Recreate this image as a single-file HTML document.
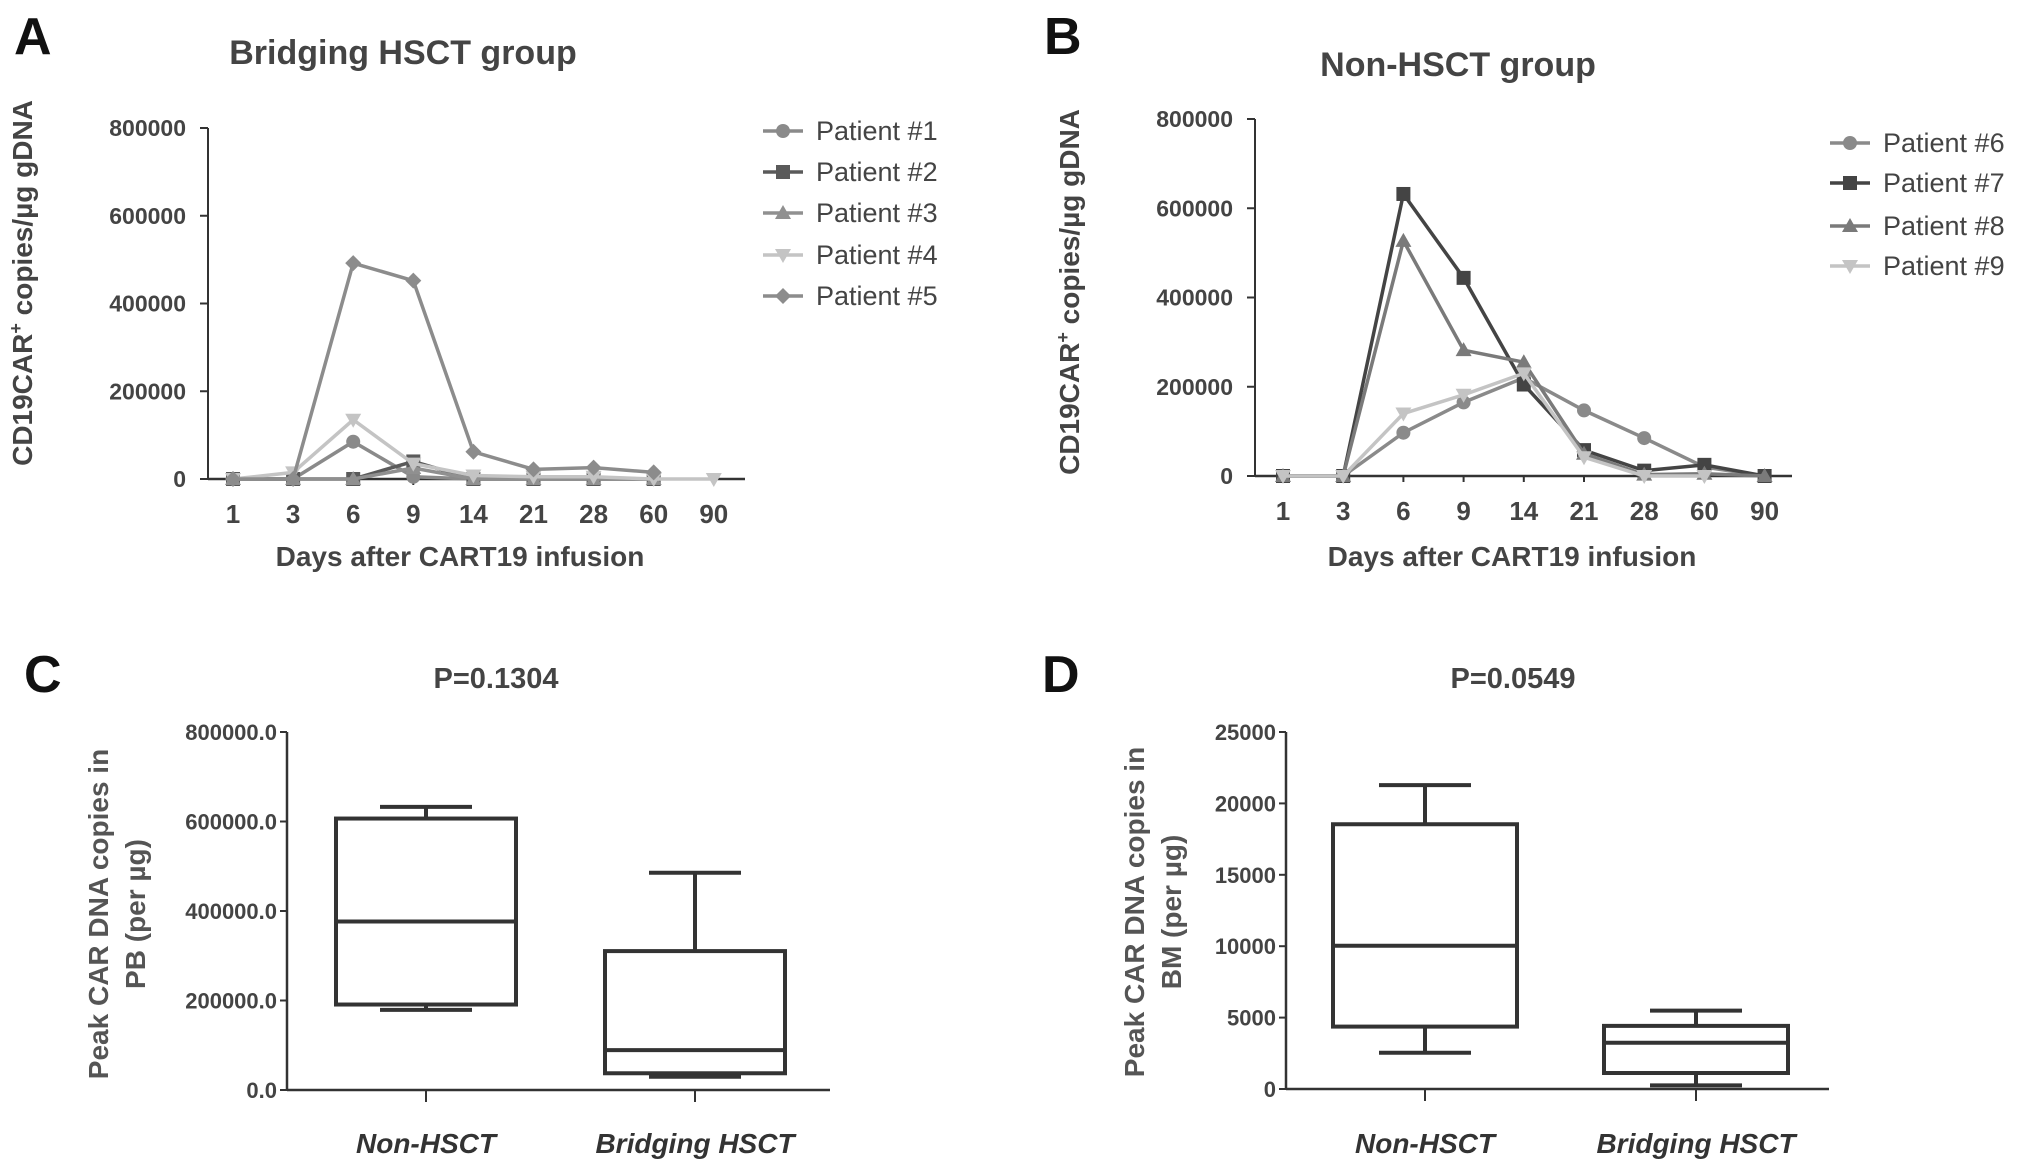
<!DOCTYPE html>
<html><head><meta charset="utf-8"><style>
html,body{margin:0;padding:0;background:#fff;}
svg{display:block;font-family:"Liberation Sans",Arial,sans-serif;}
</style></head><body>
<svg id="fig" width="2031" height="1176" viewBox="0 0 2031 1176" xmlns="http://www.w3.org/2000/svg">
<g fill="#111" font-weight="bold" font-size="52">
<text x="14" y="54">A</text>
<text x="1044" y="54">B</text>
<text x="24" y="692">C</text>
<text x="1042" y="692">D</text>
</g>
<g fill="#444" font-size="34" font-weight="bold" text-anchor="middle">
<text x="403" y="64">Bridging HSCT group</text>
<text x="1458" y="76">Non-HSCT group</text>
<text x="496" y="688" font-size="29">P=0.1304</text>
<text x="1513" y="688" font-size="29">P=0.0549</text>
</g>
<g id="gA"></g><g id="gB"></g><g id="gC"></g><g id="gD"></g>
</svg>
<script>
// ---- Panel A data ----
const daysA = ["1","3","6","9","14","21","28","60","90"];
const yTicksA = [0,200000,400000,600000,800000];
const namesA = ["Patient #1","Patient #2","Patient #3","Patient #4","Patient #5"];
const p1 = [0,0,85000,5000,0,0,0,0,null];
const p2 = [0,0,0,40000,0,0,0,0,null];
const p3 = [0,0,0,25000,0,0,0,0,null];
const p4 = [0,15000,135000,35000,8000,5000,5000,0,0];
const p5 = [0,0,492000,452000,62000,22000,26000,15000,null];
// ---- Panel B data ----
const namesB = ["Patient #6","Patient #7","Patient #8","Patient #9"];
const p6 = [0,0,97000,165000,220000,147000,85000,20000,0];
const p7 = [0,0,632000,444000,205000,58000,12000,25000,0];
const p8 = [0,0,527000,282000,255000,50000,3000,5000,0];
const p9 = [0,0,140000,182000,230000,42000,0,0,null];
// ---- Panel C data ----
const groups = ["Non-HSCT","Bridging HSCT"];
const yTicksC = [0,200000,400000,600000,800000];
const cMin=[179000,29500], cQ1=[191000,37400], cMed=[376500,89200], cQ3=[606600,310400], cMax=[632800,485600];
// ---- Panel D data ----
const yTicksD = [0,5000,10000,15000,20000,25000];
const dMin=[2540,250], dQ1=[4370,1120], dMed=[10030,3240], dQ3=[18540,4420], dMax=[21280,5490];

const NS="http://www.w3.org/2000/svg";
function mk(parent,tag,attrs,txt){const e=document.createElementNS(NS,tag);for(const k in attrs)e.setAttribute(k,attrs[k]);if(txt!==undefined)e.textContent=txt;parent.appendChild(e);return e;}

function marker(g,shape,x,y,col){
  let e;
  if(shape==="circle") e=mk(g,"circle",{cx:x,cy:y,r:7,fill:col});
  else if(shape==="square") e=mk(g,"rect",{x:x-7,y:y-7,width:14,height:14,fill:col});
  else if(shape==="tri") e=mk(g,"polygon",{points:`${x},${y-8} ${x+8},${y+6} ${x-8},${y+6}`,fill:col});
  else if(shape==="itri") e=mk(g,"polygon",{points:`${x},${y+8} ${x+8},${y-6} ${x-8},${y-6}`,fill:col});
  else e=mk(g,"polygon",{points:`${x},${y-8} ${x+8},${y} ${x},${y+8} ${x-8},${y}`,fill:col});
  
  
  return e;
}

function linePanel(gid,o){
  const g=document.getElementById(gid);
  const xs=i=>o.x0+i*o.step;
  const ys=v=>o.yb-(v/800000)*(o.yb-o.yt);
  let ax=mk(g,"line",{x1:o.ax,y1:o.yt,x2:o.ax,y2:o.yb,stroke:"#333","stroke-width":2});
  
  let bx=mk(g,"line",{x1:o.ax,y1:o.yb,x2:o.axEnd,y2:o.yb,stroke:"#333","stroke-width":2.5});
  
  yTicksA.forEach(t=>{
    mk(g,"line",{x1:o.ax-8,y1:ys(t),x2:o.ax,y2:ys(t),stroke:"#333","stroke-width":2});
    const tl=mk(g,"text",{x:o.ax-22,y:ys(t)+8,"text-anchor":"end","font-size":23,"font-weight":"bold",fill:"#444"},String(t));
    
  });
  daysA.forEach((d,i)=>{
    mk(g,"line",{x1:xs(i),y1:o.yb,x2:xs(i),y2:o.yb+6,stroke:"#333","stroke-width":2});
    const tl=mk(g,"text",{x:xs(i),y:o.yb+44,"text-anchor":"middle","font-size":26,"font-weight":"bold",fill:"#444"},d);
    
  });
  const xt=mk(g,"text",{x:o.xtX,y:566,"text-anchor":"middle","font-size":28,"font-weight":"bold",fill:"#444"},"Days after CART19 infusion");
  
  const yt=mk(g,"text",{x:0,y:0,"text-anchor":"middle","font-size":28,"font-weight":"bold",fill:"#444",transform:`translate(${o.ytX},${o.ytY}) rotate(-90)`});
  
  yt.innerHTML='CD19CAR<tspan dy="-10" font-size="18">+</tspan><tspan dy="10"> copies/µg gDNA</tspan>';
  o.series.forEach((s,k)=>{
    const sg=mk(g,"g",{});
    
    
    let pts=[];s.forEach((v,i)=>{if(v!==null)pts.push(xs(i)+","+ys(v));});
    mk(sg,"polyline",{points:pts.join(" "),fill:"none",stroke:o.cols[k],"stroke-width":3.5});
    s.forEach((v,i)=>{if(v!==null)marker(sg,o.shapes[k],xs(i),ys(v),o.cols[k]);});
    const ly=o.legY[k];
    const lg=mk(g,"g",{});
    
    
    mk(lg,"line",{x1:o.legX-20,y1:ly,x2:o.legX+20,y2:ly,stroke:o.cols[k],"stroke-width":3.5});
    marker(lg,o.shapes[k],o.legX,ly,o.cols[k]);
    mk(lg,"text",{x:o.legX+33,y:ly+9,"font-size":27,fill:"#444"},o.names[k]);
  });
}

linePanel("gA",{ax:208,axEnd:745,yt:128,yb:479,x0:233,step:60.1,xtX:460,ytX:32,ytY:283,
  series:[p1,p2,p3,p4,p5],names:namesA,shapes:["circle","square","tri","itri","diamond"],
  cols:["#8a8a8a","#5a5a5a","#909090","#c4c4c4","#8c8c8c"],legX:783,
  legY:[131,172,213,255,296]});
linePanel("gB",{ax:1255,axEnd:1792,yt:119,yb:476,x0:1283,step:60.2,xtX:1512,ytX:1079,ytY:292,
  series:[p6,p7,p8,p9],names:namesB,shapes:["circle","square","tri","itri"],
  cols:["#8a8a8a","#444","#7a7a7a","#c4c4c4"],legX:1850,legY:[143,183,226,266]});

function boxPanel(gid,o){
  const g=document.getElementById(gid);
  const ys=v=>o.yb-(v/o.max)*(o.yb-o.yt);
  let ax=mk(g,"line",{x1:o.ax,y1:o.yt,x2:o.ax,y2:o.yb,stroke:"#333","stroke-width":2.5});
  
  let bx=mk(g,"line",{x1:o.ax,y1:o.yb,x2:o.axEnd,y2:o.yb,stroke:"#333","stroke-width":2.5});
  
  o.ticks.forEach(t=>{
    mk(g,"line",{x1:o.ax-7,y1:ys(t),x2:o.ax,y2:ys(t),stroke:"#333","stroke-width":2});
    const tl=mk(g,"text",{x:o.ax-10,y:ys(t)+8,"text-anchor":"end","font-size":22,"font-weight":"bold",fill:"#444"},o.fmt(t));
    
  });
  const yt=mk(g,"text",{"text-anchor":"middle","font-size":28,"font-weight":"bold",fill:"#555",transform:`translate(${o.ytX},${o.ytY}) rotate(-90)`});
  
  mk(yt,"tspan",{x:0,y:0},"Peak CAR DNA copies in");
  mk(yt,"tspan",{x:0,y:37},o.line2);
  groups.forEach((nm,i)=>{
    const cx=o.cx[i],hw=o.hw,cw=o.cw;
    const bg=mk(g,"g",{stroke:"#333","stroke-width":4,fill:"none"});
    
    
    mk(bg,"rect",{x:cx-hw,y:ys(o.q3[i]),width:2*hw,height:ys(o.q1[i])-ys(o.q3[i])});
    mk(bg,"line",{x1:cx-hw,y1:ys(o.med[i]),x2:cx+hw,y2:ys(o.med[i])});
    mk(bg,"line",{x1:cx,y1:ys(o.q3[i]),x2:cx,y2:ys(o.mx[i])});
    mk(bg,"line",{x1:cx,y1:ys(o.q1[i]),x2:cx,y2:ys(o.mn[i])});
    mk(bg,"line",{x1:cx-cw,y1:ys(o.mx[i]),x2:cx+cw,y2:ys(o.mx[i])});
    mk(bg,"line",{x1:cx-cw,y1:ys(o.mn[i]),x2:cx+cw,y2:ys(o.mn[i])});
    mk(g,"line",{x1:cx,y1:o.yb,x2:cx,y2:o.yb+12,stroke:"#333","stroke-width":2});
    const tl=mk(g,"text",{x:cx,y:1153,"text-anchor":"middle","font-size":28,"font-weight":"bold","font-style":"italic",fill:"#333"},nm);
    
  });
}
boxPanel("gC",{ax:287,axEnd:830,yt:732,yb:1090,max:800000,ticks:yTicksC,fmt:t=>t.toFixed(1),
  cx:[426,695],hw:90,cw:46,q1:cQ1,q3:cQ3,med:cMed,mn:cMin,mx:cMax,ytX:108,ytY:914,line2:"PB (per µg)"});
boxPanel("gD",{ax:1286,axEnd:1829,yt:732,yb:1089,max:25000,ticks:yTicksD,fmt:t=>String(t),
  cx:[1425,1696],hw:92,cw:46,q1:dQ1,q3:dQ3,med:dMed,mn:dMin,mx:dMax,ytX:1144,ytY:912,line2:"BM (per µg)"});
</script>
</body></html>
